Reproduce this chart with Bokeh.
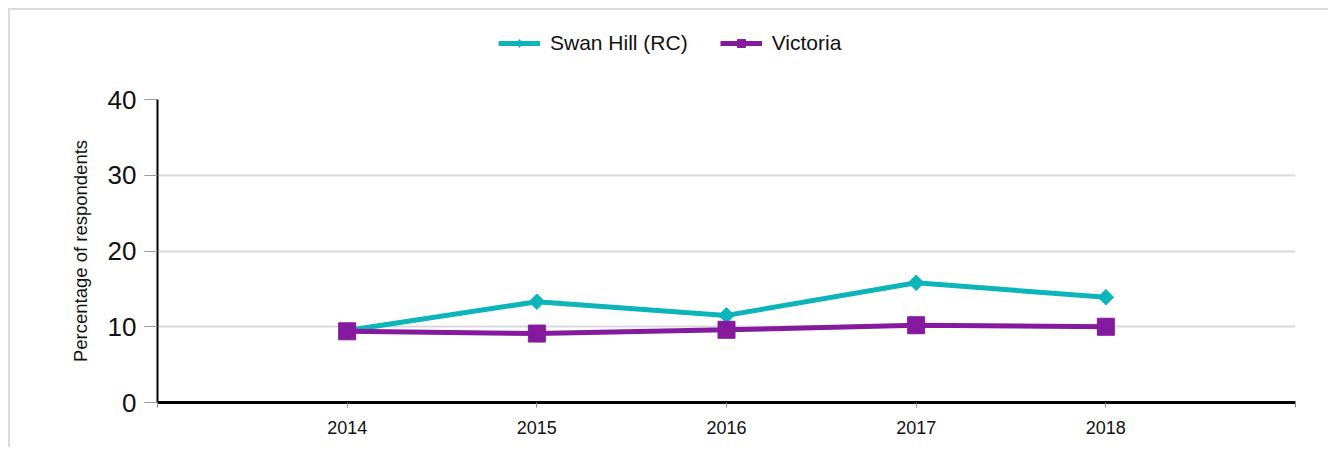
from bokeh.plotting import figure
from bokeh.layouts import column
from bokeh.models import Range1d, FixedTicker, Legend, LegendItem
from bokeh.embed import file_html
from bokeh.resources import INLINE
import math

years = [2014, 2015, 2016, 2017, 2018]
swan_hill = [9.5, 13.3, 11.5, 15.8, 13.9]
victoria = [9.4, 9.1, 9.6, 10.2, 10.0]
y_ticks = [0, 10, 20, 30, 40]
x_ticks = [2013, 2014, 2015, 2016, 2017, 2018, 2019]
series_names = ["Swan Hill (RC)", "Victoria"]

TEAL = "#0BB5B9"
PURPLE = "#861A9E"
FONT = "Liberation Sans"

p = figure(
    frame_width=1138, frame_height=303,
    min_border_left=147, min_border_top=14, min_border_right=33, min_border_bottom=45,
    x_range=Range1d(2013, 2019), y_range=Range1d(0, 40),
    output_backend="svg", toolbar_location=None,
)
p.outline_line_color = None
p.background_fill_color = "white"
p.border_fill_color = "white"

# grids
p.xgrid.visible = False
p.ygrid.ticker = FixedTicker(ticks=y_ticks)
p.ygrid.grid_line_color = "#d9d9d9"
p.ygrid.grid_line_width = 2

# x axis
p.xaxis.ticker = FixedTicker(ticks=x_ticks)
p.xaxis.major_label_overrides = {2013: "", 2019: ""}
p.xaxis.axis_line_color = "black"
p.xaxis.axis_line_width = 3
p.xaxis.major_tick_line_color = "#888888"
p.xaxis.major_tick_out = 5
p.xaxis.major_tick_in = 0
p.xaxis.minor_tick_line_color = None
p.xaxis.major_label_text_font = FONT
p.xaxis.major_label_text_font_size = "18px"
p.xaxis.major_label_text_color = "#111111"
p.xaxis.major_label_standoff = 13

# y axis
p.yaxis.ticker = FixedTicker(ticks=y_ticks)
p.yaxis.axis_line_color = "black"
p.yaxis.axis_line_width = 2
p.yaxis.major_tick_line_color = "#999999"
p.yaxis.major_tick_out = 13
p.yaxis.major_tick_in = 0
p.yaxis.minor_tick_line_color = None
p.yaxis.major_label_text_font = FONT
p.yaxis.major_label_text_font_size = "26px"
p.yaxis.major_label_text_color = "#111111"
p.yaxis.major_label_standoff = 8
p.yaxis.axis_label = "Percentage of respondents"
p.yaxis.axis_label_text_font = FONT
p.yaxis.axis_label_text_font_style = "normal"
p.yaxis.axis_label_text_font_size = "18.5px"
p.yaxis.axis_label_text_color = "#111111"
p.yaxis.axis_label_standoff = 14

# series
p.line(years, swan_hill, line_color=TEAL, line_width=5)
p.scatter(years, swan_hill, marker="square", angle=math.pi / 4, size=11,
          fill_color=TEAL, line_color=TEAL)
p.line(years, victoria, line_color=PURPLE, line_width=5)
p.scatter(years, victoria, marker="square", size=17,
          fill_color=PURPLE, line_color=PURPLE)

# legend strip above the chart (its renderers sit outside its visible range)
lf = figure(
    frame_width=1318, frame_height=75,
    min_border=0, x_range=Range1d(0, 1), y_range=Range1d(0, 1),
    x_axis_type=None, y_axis_type=None,
    output_backend="svg", toolbar_location=None,
)
lf.outline_line_color = None
lf.grid.visible = False
lf.border_fill_color = "white"
ll1 = lf.line(years[:1], swan_hill[:1], line_color=TEAL, line_width=5)
lm1 = lf.scatter(years[:1], swan_hill[:1], marker="diamond", size=14,
                 fill_color=TEAL, line_color=TEAL)
ll2 = lf.line(years[:1], victoria[:1], line_color=PURPLE, line_width=5)
lm2 = lf.scatter(years[:1], victoria[:1], marker="square", size=17,
                 fill_color=PURPLE, line_color=PURPLE)

legend = Legend(
    items=[LegendItem(label=series_names[0], renderers=[ll1, lm1]),
           LegendItem(label=series_names[1], renderers=[ll2, lm2])],
    orientation="horizontal",
    location=(488, 30),
    glyph_width=42, glyph_height=20,
    label_standoff=10, spacing=32,
    padding=0, margin=0,
    border_line_color=None, background_fill_alpha=0,
    label_text_font=FONT, label_text_font_size="21px",
    label_text_color="#111111",
)
lf.add_layout(legend, "center")

layout = column(lf, p, spacing=0,
                styles={"border-top": "2px solid #dcdcdc", "border-left": "2px solid #dcdcdc",
                        "margin-left": "8px", "margin-top": "8px"})

open("out.html", "w").write(file_html(layout, INLINE))
